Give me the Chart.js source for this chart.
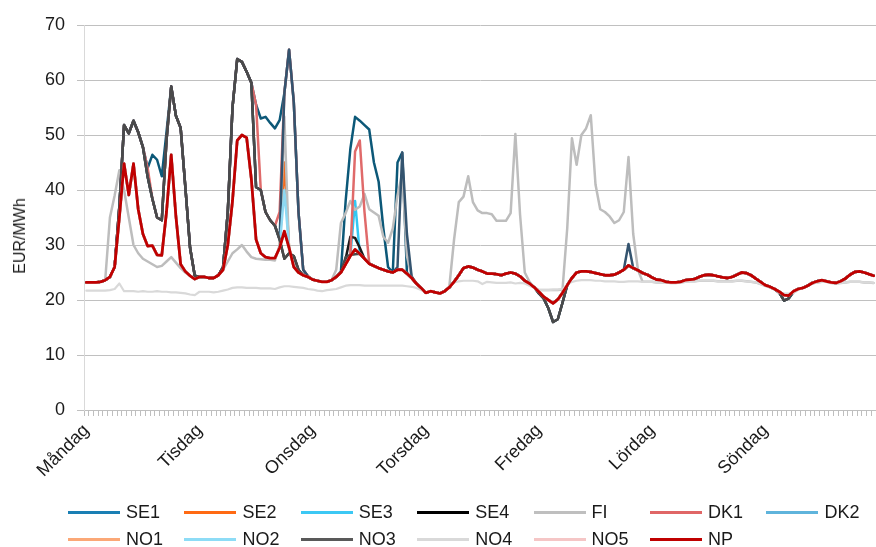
<!DOCTYPE html>
<html><head><meta charset="utf-8">
<script src="https://cdn.jsdelivr.net/npm/chart.js@4.4.1/dist/chart.umd.min.js"></script>
<style>
html,body{margin:0;padding:0;background:#fff;}
#wrap{position:relative;width:876px;height:547px;overflow:hidden;font-family:'Liberation Sans',Arial,sans-serif;color:#1a1a1a;}
#c{position:absolute;left:0;top:0;}
#ytitle{position:absolute;left:20px;top:236px;transform:translate(-50%,-50%) rotate(-90deg);font-size:16px;white-space:nowrap;}
.lg{position:absolute;height:22px;display:flex;align-items:center;font-size:18px;white-space:nowrap;}
.lg .sw{display:inline-block;width:52px;height:3px;margin-right:6px;}
</style></head><body>
<div id="wrap"><canvas id="c" width="876" height="547"></canvas><div id="ytitle">EUR/MWh</div><div id="legend"></div></div>
<script>
// ---------- data ----------
const days = ['Måndag','Tisdag','Onsdag','Torsdag','Fredag','Lördag','Söndag'];
const seriesNames = ['SE1','SE2','SE3','SE4','FI','DK1','DK2','NO1','NO2','NO3','NO4','NO5','NP'];

// NP (system price), hourly, 7 days x 24 h
const np = [
 23.2,23.2,23.2,23.3,23.6,24.2,26.0,35.0,44.8,39.1,44.8,36.5,32.0,29.8,29.9,28.2,28.1,36.0,46.4,35.2,26.5,25.2,24.4,23.8,
 24.2,24.2,24.0,24.0,24.5,25.5,30.0,38.0,49.0,50.0,49.5,42.0,31.0,28.5,27.8,27.6,27.6,29.5,32.5,29.5,26.0,25.0,24.5,24.2,
 23.7,23.5,23.3,23.3,23.6,24.2,25.0,26.5,28.0,29.2,28.4,27.5,26.6,26.2,25.8,25.5,25.2,25.0,25.5,25.5,24.8,24.0,23.0,22.2,
 21.3,21.6,21.4,21.2,21.6,22.3,23.3,24.5,25.8,26.1,25.9,25.5,25.2,24.8,24.8,24.7,24.5,24.8,25.0,24.8,24.3,23.5,23.0,22.3,
 21.5,20.6,20.0,19.4,20.1,21.3,22.7,24.0,25.0,25.2,25.2,25.1,24.9,24.7,24.5,24.5,24.6,25.0,25.5,26.3,25.8,25.4,24.9,24.6,
 24.1,23.7,23.6,23.3,23.2,23.2,23.3,23.6,23.7,23.8,24.2,24.5,24.6,24.5,24.3,24.1,24.0,24.2,24.6,25.0,24.9,24.5,23.9,23.3,
 22.7,22.4,22.0,21.5,20.9,20.8,21.6,22.0,22.2,22.6,23.1,23.4,23.6,23.4,23.2,23.1,23.4,23.9,24.6,25.1,25.2,25.0,24.7,24.4
];

// NO4, hourly
const no4 = [
 21.7,21.7,21.7,21.7,21.7,21.8,22.0,23.0,21.6,21.6,21.6,21.5,21.6,21.5,21.5,21.6,21.5,21.5,21.4,21.4,21.3,21.2,21.0,20.9,
 21.5,21.5,21.5,21.4,21.5,21.7,21.9,22.2,22.3,22.3,22.2,22.2,22.2,22.1,22.1,22.1,22.0,22.3,22.5,22.5,22.4,22.3,22.2,22.0,
 21.9,21.7,21.6,21.8,21.9,22.0,22.3,22.6,22.7,22.7,22.7,22.6,22.6,22.6,22.6,22.6,22.6,22.6,22.6,22.6,22.5,22.4,22.2,21.8,
 21.4,21.6,21.4,21.2,21.6,22.3,23.2,23.4,23.5,23.5,23.5,23.4,22.9,23.3,23.2,23.1,23.1,23.1,23.2,23.0,23.1,23.0,22.6,22.2,
 21.8,21.8,21.8,21.9,21.9,22.0,22.8,23.3,23.5,23.6,23.6,23.6,23.5,23.5,23.4,23.4,23.4,23.3,23.3,23.4,23.4,23.4,23.3,23.3,
 23.3,23.2,23.2,23.2,23.1,23.1,23.2,23.3,23.4,23.4,23.5,23.5,23.5,23.5,23.4,23.4,23.4,23.4,23.5,23.5,23.4,23.3,23.2,22.9,
 22.6,22.3,22.0,21.3,21.1,21.1,21.3,21.9,22.2,22.6,23.0,23.2,23.3,23.3,23.1,23.0,23.1,23.2,23.3,23.3,23.3,23.2,23.2,23.1
];

// Hours where an area price departs from NP: [first hour index, values]
const se1Mon = [26.0,37.0,51.8,50.3,52.6,50.5,47.8,44.0,46.4,45.5,42.5,50.5,58.8,53.5,51.3,40.5,29.5,24.4];   // h6-23
const se1Tue = [26.0,36.0,55.0,63.8,63.3,61.5,59.5,55.5,53.0,53.3,52.2,51.2,52.7,57.6,65.5,56.0,36.0,25.5,24.3]; // h29-47
const se1Wed = [25.2,38.0,47.5,53.3,52.6,51.8,51.0,45.0,41.5,33.0,26.0,25.0,45.0,46.8,25.0];                   // h54-68

const lowMon = [26.0,37.0,51.8,50.3,52.6,50.5,47.8,42.4,38.4,35.0,34.5,49.0,58.8,53.5,51.3,40.5,29.5,24.4];    // h6-23
const lowTue = [26.0,36.0,55.0,63.8,63.3,61.5,59.5,40.5,40.0,36.0,34.5,33.5,31.0,27.5,28.5,28.0,25.5,24.5,24.2]; // h29-47
const lowFri = [21.2,20.3,18.5,16.0,16.5,19.5,22.7];   // h96-102
const lowSun = [21.3,19.9,20.3,21.5];                  // h147-150
const se4Wed = [27.5,31.5,31.3,29.5];                  // h55-58
const no3Wed = [27.8,28.2,28.3,28.4];                  // h55-58

const dk1Mon = [26.0,37.0,51.8,50.3,52.6,50.5,47.8,44.0,38.4,35.0,34.5,49.0,58.8,53.5,51.3,40.5,29.5,24.4];    // h6-23
const dk1Tue = [26.0,36.0,55.0,63.8,63.3,61.5,59.5,55.5,40.0,36.0,34.5,33.5,36.0,57.6,65.5,56.0,36.0,25.5,24.3]; // h29-47
const dk1Wed = [28.5,47.0,49.0,36.0];                  // h56-59

const dk2Tue = [26.0,36.0,55.0,63.8,63.3,61.5,59.5,40.5,40.0,36.0,34.5,33.5,31.0,57.6,65.5,56.0,36.0,25.5,24.3]; // h29-47
const dk2Wed = [26.0,46.8,32.0,24.3];                  // h66-69
const dk2Fri = [30.2];                                 // h115

const fiMon = [35.0,39.0,43.6,40.0,35.0,30.0,28.5,27.5,27.0,26.5,26.0,26.2,27.0,27.8,26.8,25.8,25.0,24.4,24.0]; // h5-23
const fiTue = [25.5,27.0,28.5,29.2,30.0,28.8,27.8,27.5,27.4,27.3,27.3,27.2,30.0,53.3,29.0,26.5,25.0,24.5,24.2]; // h29-47
const fiWed = [25.5,34.0,35.8,38.0,36.4,37.0,39.3,36.5,35.9,35.3,31.5,30.4,33.0,39.0,43.0,28.0,24.3];           // h53-69
const fiThuFri = [22.5,31.0,37.8,38.8,42.5,37.8,36.3,35.8,35.8,35.6,34.4,34.4,34.4,35.8,50.2,35.5,25.0,23.3,22.3,21.8,
                  21.8,21.8,21.8,21.8,21.9,33.0,49.4,44.6,50.0,51.2,53.6,41.0,36.5,36.0,35.2,34.0,34.5,36.0,46.0,32.0,25.5]; // h77-117

const se2Tue = [45.0];   // h42
const se3Wed = [38.0];   // h57
const no2Tue = [40.0];   // h42

// ---------- build ----------
function patch(base, segs){
  const out = base.slice();
  segs.forEach(([start, vals]) => vals.forEach((v,k) => { out[start+k] = v; }));
  return out;
}
const values = {
  SE1: patch(np, [[6,se1Mon],[29,se1Tue],[54,se1Wed]]),
  SE2: patch(np, [[42,se2Tue]]),
  SE3: patch(np, [[57,se3Wed]]),
  SE4: patch(np, [[6,lowMon],[29,lowTue],[55,se4Wed],[96,lowFri],[147,lowSun]]),
  FI:  patch(np, [[5,fiMon],[29,fiTue],[53,fiWed],[77,fiThuFri],[118,no4.slice(118)]]),
  DK1: patch(np, [[6,dk1Mon],[29,dk1Tue],[56,dk1Wed]]),
  DK2: patch(np, [[6,lowMon],[29,dk2Tue],[66,dk2Wed],[96,lowFri],[115,dk2Fri],[147,lowSun]]),
  NO1: np.slice(),
  NO2: patch(np, [[42,no2Tue]]),
  NO3: patch(np, [[6,lowMon],[29,lowTue],[55,no3Wed],[96,lowFri],[147,lowSun]]),
  NO4: no4.slice(),
  NO5: np.slice(),
  NP:  np.slice()
};

const labels = [];
for (let d = 0; d < days.length; d++) for (let h = 0; h < 24; h++) labels.push(h === 0 ? days[d] : '');

// ---------- styles ----------
const lineColors = {SE1:'#0c5878',SE2:'#f26b1d',SE3:'#33c7f3',SE4:'#1a1a1a',FI:'#bdbdbd',DK1:'#e06a6a',DK2:'#34546f',
  NO1:'#f9a677',NO2:'#8ed8f2',NO3:'#4a4a4a',NO4:'#d9d9d9',NO5:'#f4c4c4',NP:'#c00000'};
const legendColors = {SE1:'#1a7fb4',SE2:'#ff6a13',SE3:'#3cc8f4',SE4:'#000000',FI:'#bfbfbf',DK1:'#e06666',DK2:'#5fb4dc',
  NO1:'#fba877',NO2:'#8ddcf6',NO3:'#595959',NO4:'#d9d9d9',NO5:'#f5c6c6',NP:'#c00000'};
const FONT = "'Liberation Sans', Arial, sans-serif";

const datasets = seriesNames.map((n,i) => ({
  label: n, data: values[n], borderColor: lineColors[n], backgroundColor: lineColors[n],
  borderWidth: n === 'NP' ? 2.8 : (n === 'NO4' ? 2.2 : 2.5), pointRadius: 0, tension: 0, fill: false,
  order: seriesNames.length - 1 - i
}));

new Chart(document.getElementById('c'), {
  type: 'line',
  data: { labels, datasets },
  options: {
    responsive: false, animation: false, devicePixelRatio: 1,
    layout: { padding: { top: 25, right: 0, bottom: 0, left: 0 } },
    plugins: { legend: { display: false }, tooltip: { enabled: false } },
    elements: { line: { borderJoinStyle: 'round', borderCapStyle: 'round' } },
    scales: {
      x: {
        type: 'category', offset: true,
        grid: { display: true, drawOnChartArea: false, drawTicks: true, tickLength: 6, color: '#bfbfbf', offset: true },
        border: { display: true, color: '#bfbfbf' },
        ticks: { autoSkip: false, maxRotation: 45, minRotation: 45, padding: 4, color: '#1a1a1a', font: { family: FONT, size: 18 } },
        afterFit(s) { s.height = 137; s.paddingRight = 0; s.paddingLeft = 0; }
      },
      y: {
        min: 0, max: 70,
        ticks: { stepSize: 10, padding: 12, color: '#1a1a1a', font: { family: FONT, size: 18 } },
        grid: { color: '#c0c0c0', tickLength: 7, drawTicks: true },
        border: { display: true, color: '#d9d9d9' },
        afterFit(s) { s.width = 84; }
      }
    }
  }
});

// legend (grid of 7 columns)
const lg = document.getElementById('legend');
seriesNames.forEach((n,i) => {
  const col = i % 7, row = Math.floor(i / 7);
  const el = document.createElement('div');
  el.className = 'lg';
  el.style.left = (68 + 116.4 * col) + 'px';
  el.style.top = (row === 0 ? 501 : 528) + 'px';
  el.innerHTML = '<span class="sw" style="background:' + legendColors[n] + '"></span><span>' + n + '</span>';
  lg.appendChild(el);
});
</script>
</body></html>
